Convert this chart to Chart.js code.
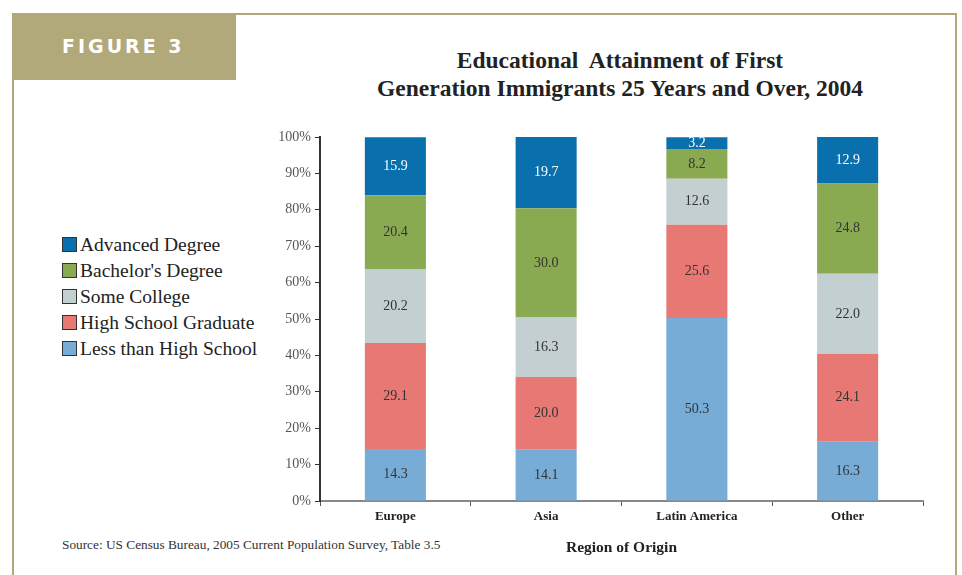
<!DOCTYPE html>
<html>
<head>
<meta charset="utf-8">
<script src="https://cdn.jsdelivr.net/npm/chart.js@4"></script>
<style>
    body { margin: 0; background: #fff; }
    #page { position: relative; width: 962px; height: 575px; overflow: hidden; font-family: "Liberation Serif", serif; }
    #frame { position: absolute; left: 12px; top: 13px; width: 945px; height: 600px; border: 2px solid #b2a97a; border-bottom: none; box-sizing: border-box; }
    #figbox { position: absolute; left: 12px; top: 13px; width: 224px; height: 67px; background: #b2a97a; color: #fff; font-weight: bold;
        font-family: "DejaVu Sans", sans-serif; font-size: 19px; letter-spacing: 3px; line-height: 67px; padding-left: 50px; box-sizing: border-box; }
    #title { position: absolute; left: 270px; width: 700px; top: 46px; text-align: center; font-weight: bold; font-size: 23.5px; line-height: 28px; color: #222; }
    #legend { position: absolute; left: 62px; top: 234px; font-size: 19.5px; color: #222; }
    #legend div { height: 26px; line-height: 22px; white-space: nowrap; }
    #legend span { display: inline-block; width: 13px; height: 13px; border: 1px solid #333; margin-right: 3px; vertical-align: -1px; }
    #source { position: absolute; left: 62px; top: 537px; font-size: 13.3px; color: #333; }
    canvas { position: absolute; left: 0; top: 0; }
</style>
</head>
<body>
<div id="page">
    <div id="frame"></div>
    <div id="figbox">FIGURE 3</div>
    <div id="title">Educational&nbsp; Attainment of First<br>Generation Immigrants 25 Years and Over, 2004</div>
    <div id="legend"></div>
    <div id="source">Source: US Census Bureau, 2005 Current Population Survey, Table 3.5</div>
    <canvas id="chart" width="962" height="575"></canvas>
</div>
<script>
"use strict";

const regions = ["Europe", "Asia", "Latin America", "Other"];
const lessThanHS = [14.3, 14.1, 50.3, 16.3];
const hsGraduate = [29.1, 20.0, 25.6, 24.1];
const someCollege = [20.2, 16.3, 12.6, 22.0];
const bachelors = [20.4, 30.0, 8.2, 24.8];
const advanced = [15.9, 19.7, 3.2, 12.9];
const yTicks = [0, 10, 20, 30, 40, 50, 60, 70, 80, 90, 100];

const series = [
    { label: "Less than High School", data: lessThanHS, color: "#76acd6", text: "#333" },
    { label: "High School Graduate", data: hsGraduate, color: "#e87873", text: "#333" },
    { label: "Some College", data: someCollege, color: "#c3cfd0", text: "#333" },
    { label: "Bachelor's Degree", data: bachelors, color: "#8aaa52", text: "#333" },
    { label: "Advanced Degree", data: advanced, color: "#0a70ad", text: "#fff" }
];

// html legend, top item is the last series
const legend = document.getElementById("legend");
series.slice().reverse().forEach(s => {
    const row = document.createElement("div");
    const box = document.createElement("span");
    box.style.background = s.color;
    row.append(box, s.label);
    legend.append(row);
});

// write the value in the middle of each segment
const segmentLabels = {
    id: "segmentLabels",
    afterDatasetsDraw(chart) {
        const ctx = chart.ctx;
        ctx.save();
        ctx.font = "14px 'Liberation Serif', serif";
        ctx.textAlign = "center";
        ctx.textBaseline = "middle";
        chart.data.datasets.forEach((ds, i) => {
            chart.getDatasetMeta(i).data.forEach((bar, j) => {
                ctx.fillStyle = series[i].text;
                ctx.fillText(ds.data[j].toFixed(1), bar.x, (bar.y + bar.base) / 2);
            });
        });
        ctx.restore();
    }
};

new Chart(document.getElementById("chart"), {
    type: "bar",
    data: {
        labels: regions,
        datasets: series.map(s => ({
            label: s.label,
            data: s.data,
            backgroundColor: s.color,
            borderWidth: 0,
            barPercentage: 0.81,
            categoryPercentage: 0.5
        }))
    },
    options: {
        responsive: false,
        animation: false,
        layout: { padding: { left: 260, top: 137, right: 39, bottom: 14 } },
        plugins: { legend: { display: false }, tooltip: { enabled: false } },
        scales: {
            x: {
                stacked: true,
                border: { color: "#888", width: 2 },
                grid: { drawOnChartArea: false, tickLength: 5, tickColor: "#555", offset: true },
                ticks: { color: "#222", font: { family: "Liberation Serif", size: 13, weight: "bold" }, padding: 3 },
                title: { display: true, text: "Region of Origin", color: "#222", font: { family: "Liberation Serif", size: 15.5, weight: "bold" }, padding: { top: 12 } },
                afterFit(scale) { scale.height = 60; }
            },
            y: {
                stacked: true,
                min: 0,
                max: 100,
                afterBuildTicks(scale) { scale.ticks = yTicks.map(v => ({ value: v })); },
                border: { color: "#333", width: 2 },
                grid: { drawOnChartArea: false, tickLength: 5, tickColor: "#333" },
                ticks: { color: "#555", font: { family: "Liberation Serif", size: 14 }, padding: 4, callback: v => v + "%" },
                afterFit(scale) { scale.width = 60; }
            }
        }
    },
    plugins: [segmentLabels]
});
</script>
</body>
</html>
